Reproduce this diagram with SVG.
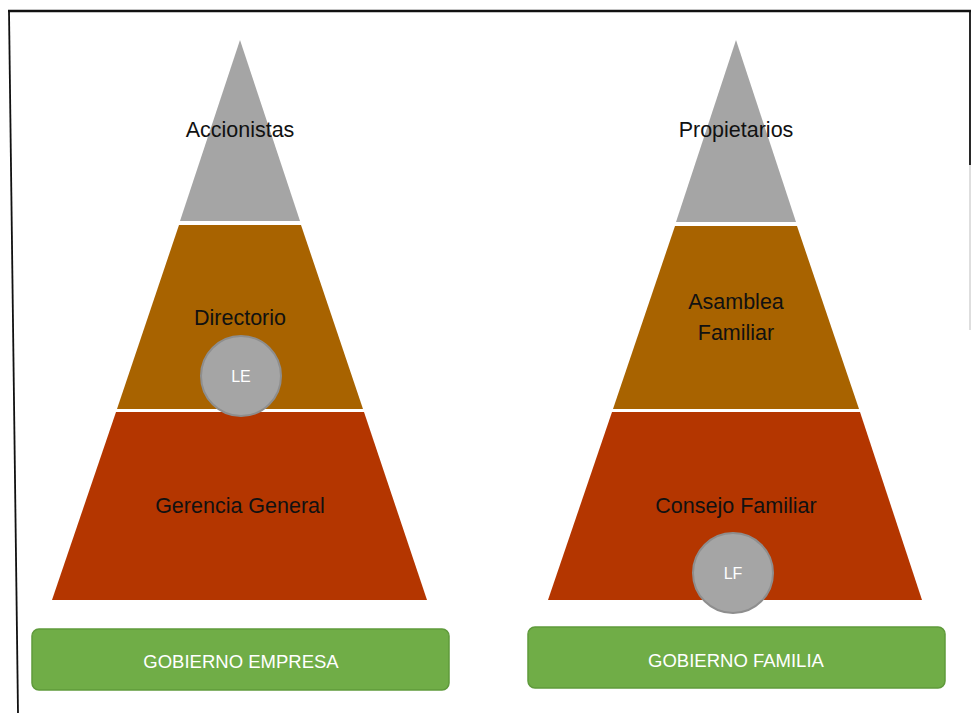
<svg xmlns="http://www.w3.org/2000/svg" width="973" height="713" viewBox="0 0 973 713">
  <style>
    .lbl { font-family: "Liberation Sans", Arial, sans-serif; font-size: 21.5px; fill: #111; text-anchor: middle; }
    .badge { fill: #A5A5A5; stroke: #8E8E8E; stroke-width: 2; }
    .badge-txt { font-family: "Liberation Sans", Arial, sans-serif; font-size: 16px; fill: #fff; text-anchor: middle; }
    .bar { fill: #70AD47; stroke: #5F9A3B; stroke-width: 1.5; }
    .bar-txt { font-family: "Liberation Sans", Arial, sans-serif; font-size: 18.5px; fill: #fff; text-anchor: middle; }
    .top { fill: #A5A5A5; }
    .mid { fill: #A86300; }
    .low { fill: #B43600; }
    .frame { stroke: #111; fill: none; }
  </style>

  <rect width="973" height="713" fill="#fff"/>

  <!-- page frame -->
  <g id="frame">
    <line class="frame" x1="8" y1="11" x2="971" y2="11" stroke-width="2.5"/>
    <line class="frame" x1="9" y1="11" x2="18" y2="713" stroke-width="1.8"/>
    <line class="frame" x1="970" y1="11" x2="970" y2="165" stroke-width="1.8"/>
    <line x1="970" y1="165" x2="970" y2="330" stroke="#C8C8C8" stroke-width="1.2"/>
  </g>

  <!-- left pyramid: company governance -->
  <g id="acc">
    <polygon class="top" points="240,40 300,221 180,221"/>
    <text class="lbl" x="240" y="137">Accionistas</text>
  </g>
  <g id="dir">
    <polygon class="mid" points="179,225 301,225 363,409 117,409"/>
    <text class="lbl" x="240" y="325">Directorio</text>
  </g>
  <g id="ger">
    <polygon class="low" points="116,412 364,412 427,600 52,600"/>
    <text class="lbl" x="240" y="513">Gerencia General</text>
  </g>
  <g id="le">
    <circle class="badge" cx="241" cy="376" r="40"/>
    <text class="badge-txt" x="241" y="382">LE</text>
  </g>
  <g id="gob-empresa">
    <rect class="bar" x="32" y="629" width="417" height="61" rx="7"/>
    <text class="bar-txt" x="241" y="668">GOBIERNO EMPRESA</text>
  </g>

  <!-- right pyramid: family governance -->
  <g id="prop">
    <polygon class="top" points="736,40 796,222 676,222"/>
    <text class="lbl" x="736" y="137">Propietarios</text>
  </g>
  <g id="asam">
    <polygon class="mid" points="675,226 797,226 859,409 613,409"/>
    <text class="lbl" x="736" y="309">Asamblea</text>
    <text class="lbl" x="736" y="340">Familiar</text>
  </g>
  <g id="cons">
    <polygon class="low" points="612,412 860,412 922,600 548,600"/>
    <text class="lbl" x="736" y="513">Consejo Familiar</text>
  </g>
  <g id="lf">
    <circle class="badge" cx="733" cy="573" r="40"/>
    <text class="badge-txt" x="733" y="579">LF</text>
  </g>
  <g id="gob-familia">
    <rect class="bar" x="528" y="627" width="417" height="61" rx="7"/>
    <text class="bar-txt" x="736" y="667">GOBIERNO FAMILIA</text>
  </g>

  <g id="connectors"/>
</svg>
